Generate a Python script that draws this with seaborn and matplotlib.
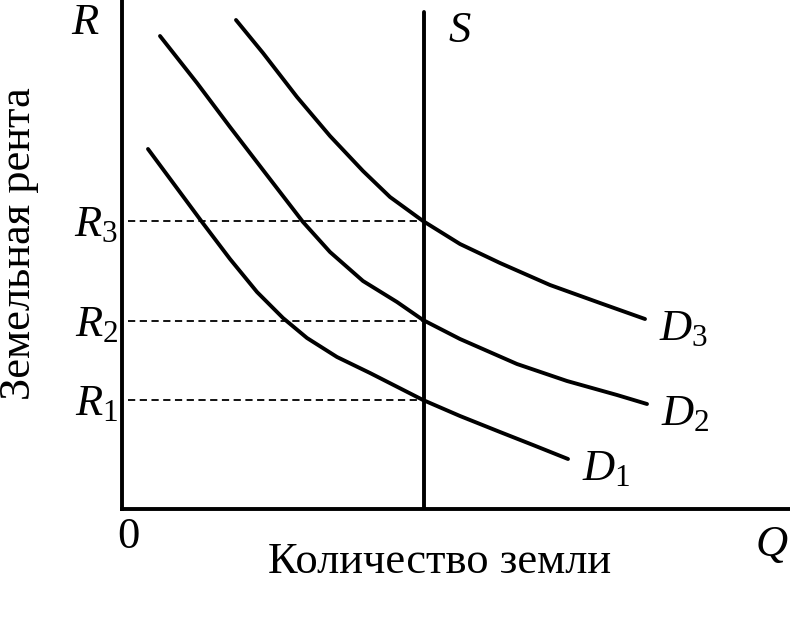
import seaborn as sns
import matplotlib.pyplot as plt
import pandas as pd

sns.set_theme(style='white')
plt.rcParams['font.family'] = ['Liberation Serif', 'DejaVu Serif']
plt.rcParams['mathtext.fontset'] = 'custom'
plt.rcParams['mathtext.rm'] = 'Liberation Serif'
plt.rcParams['mathtext.it'] = 'Liberation Serif:italic'
plt.rcParams['text.color'] = 'black'

# demand curves (Q, R)
d1_q = [26, 80, 108, 135, 161, 185, 215, 248, 301, 338, 378, 411, 446]
d1_r = [360, 287, 250, 217, 191, 171, 152, 136, 109, 93, 77, 64, 50]
d2_q = [38, 75, 108, 141, 181, 208, 241, 275, 301, 338, 395, 445, 495, 525]
d2_r = [473, 426, 382, 339, 287, 257, 228, 207, 189, 170, 145, 128, 114, 105]
d3_q = [114, 141, 175, 208, 241, 268, 301, 338, 378, 428, 478, 523]
d3_r = [489, 456, 412, 373, 338, 312, 288, 265, 246, 224, 206, 190]

supply_q = [302, 302]
supply_r = [0, 497]
rent_levels = [109, 188, 288]
rent_labels = [r'$R_1$', r'$R_2$', r'$R_3$']
curve_labels = [r'$D_1$', r'$D_2$', r'$D_3$']

df = pd.concat([
    pd.DataFrame({'Q': d1_q, 'R': d1_r, 'curve': 'D1'}),
    pd.DataFrame({'Q': d2_q, 'R': d2_r, 'curve': 'D2'}),
    pd.DataFrame({'Q': d3_q, 'R': d3_r, 'curve': 'D3'}),
    pd.DataFrame({'Q': supply_q, 'R': supply_r, 'curve': 'S'}),
])

fig = plt.figure(figsize=(7.9, 6.23), dpi=100)
ax = fig.add_axes([122 / 790, 114 / 623, 668 / 790, 509 / 623])

sns.lineplot(data=df, x='Q', y='R', units='curve', estimator=None, sort=False,
             color='black', lw=2.8, solid_capstyle='round', solid_joinstyle='round', ax=ax)

for r in rent_levels:
    ax.plot([6, 302], [r, r], color='black', lw=1.3, ls=(0, (4, 2.5)))

ax.set_xlim(0, 668)
ax.set_ylim(0, 509)
ax.set_xticks([])
ax.set_yticks([])
ax.set_xlabel('')
ax.set_ylabel('')
for side in ['top', 'right']:
    ax.spines[side].set_visible(False)
for side in ['left', 'bottom']:
    ax.spines[side].set_linewidth(2.8)
    ax.spines[side].set_color('black')

fs = 32
for r, lab in zip(rent_levels, rent_labels):
    ax.text(-4, r - 4, lab, ha='right', va='center', fontsize=fs)
ends = [(d1_q[-1], d1_r[-1]), (d2_q[-1], d2_r[-1]), (d3_q[-1], d3_r[-1])]
for (q, r), lab in zip(ends, curve_labels):
    ax.text(q + 14, r - 10, lab, ha='left', va='center', fontsize=fs)

ax.text(-22, 486, r'$R$', ha='right', va='center', fontsize=fs)
ax.text(326, 478, r'$S$', ha='left', va='center', fontsize=fs)
ax.text(666, -36, r'$Q$', ha='right', va='center', fontsize=fs, clip_on=False)
ax.text(6, -28, '0', ha='center', va='center', fontsize=fs)

fig.text(440 / 790, 1 - 562 / 623, 'Количество земли', ha='center', va='center', fontsize=fs)
fig.text(19 / 790, 1 - 244 / 623, 'Земельная рента', ha='center', va='center',
         rotation=90, fontsize=fs)

plt.savefig('out.png', dpi=100)
